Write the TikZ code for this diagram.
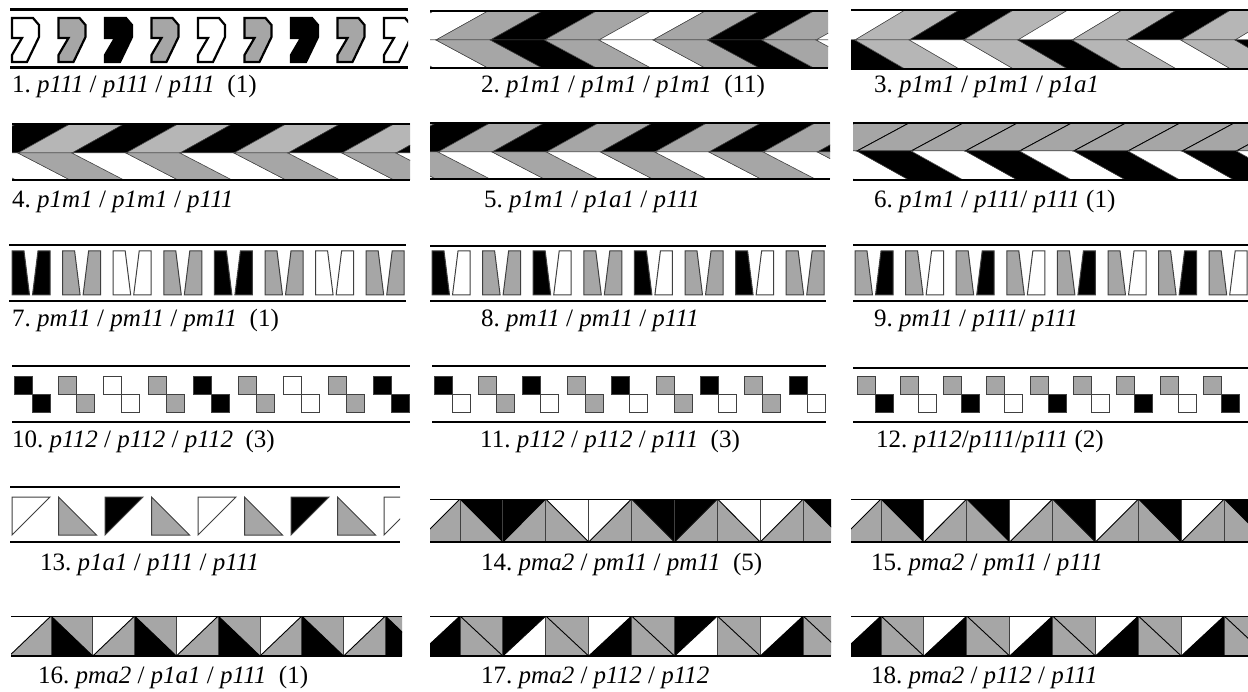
\documentclass[tikz,border=0pt]{standalone}
\usepackage{fontspec}
\setmainfont{Liberation Serif}
\definecolor{gA}{HTML}{A6A6A6}
\definecolor{gB}{HTML}{B6B6B6}
\definecolor{seamc}{HTML}{404040}
\tikzset{
  rim/.style={line width=2.6pt,black},
  seam/.style={line width=0.5pt,draw=seamc},
  blackseam/.style={line width=0.8pt,draw=black},
  pairline/.style={line width=1pt,draw=seamc},
  sqline/.style={line width=1pt,draw=seamc},
  diag/.style={line width=0.9pt,black},
  vline/.style={line width=0.9pt,draw=seamc},
  lbl/.style={anchor=base west,inner sep=0pt,font=\fontsize{25}{29}\selectfont},
}
\newcommand\gi[1]{\textit{#1}}
% chevron strip: parameters \Xa \Xb \Yt \Ym \Yb \Tip \Sp \Dx \Up \Lo \Nc \Sty
\newcommand\drawchev{%
  \begin{scope}
    \clip (\Xa,\Yt) rectangle (\Xb,\Yb);
    \foreach \k in {-2,...,9}{%
      \pgfmathsetmacro\tx{\Tip+\k*\Sp}%
      \pgfmathtruncatemacro\m{mod(\k+8,\Nc)}%
      \pgfmathparse{\Up[\m]}\edef\cu{\pgfmathresult}%
      \pgfmathparse{\Lo[\m]}\edef\cl{\pgfmathresult}%
      \filldraw[fill=\cu,\Sty] (\tx,\Ym) -- (\tx+\Dx,\Yt) -- (\tx+\Dx+\Sp,\Yt) -- (\tx+\Sp,\Ym) -- cycle;
      \filldraw[fill=\cl,seam] (\tx,\Ym) -- (\tx+\Dx,\Yb) -- (\tx+\Dx+\Sp,\Yb) -- (\tx+\Sp,\Ym) -- cycle;
    }
  \end{scope}
  \draw[rim] (\Xa,\Yt) -- (\Xb,\Yt);
  \draw[rim] (\Xa,\Yb) -- (\Xb,\Yb);
}
% triangle strip: cells of width \CW starting at #5, colours \CU / \CL with period \CN
\newcommand\trirow[5]{%
  \begin{scope}
    \clip (#1,#3) rectangle (#2,#4);
    \foreach \j in {-2,...,10}{%
      \pgfmathsetmacro\cx{#5+\j*\CW}%
      \pgfmathsetmacro\cxx{#5+(\j+1)*\CW}%
      \pgfmathtruncatemacro\m{mod(\j+8,\CN)}%
      \pgfmathtruncatemacro\pty{mod(\j+8,2)}%
      \pgfmathparse{\CU[\m]}\edef\cu{\pgfmathresult}%
      \pgfmathparse{\CL[\m]}\edef\cl{\pgfmathresult}%
      \ifnum\pty=0
        \fill[\cu] (\cx,#3) -- (\cxx,#3) -- (\cxx,#4) -- cycle;
        \fill[\cl] (\cx,#3) -- (\cx,#4) -- (\cxx,#4) -- cycle;
        \draw[diag] (\cx,#3) -- (\cxx,#4);
      \else
        \fill[\cu] (\cx,#3) -- (\cxx,#3) -- (\cx,#4) -- cycle;
        \fill[\cl] (\cx,#4) -- (\cxx,#4) -- (\cxx,#3) -- cycle;
        \draw[diag] (\cx,#4) -- (\cxx,#3);
      \fi
      \draw[vline] (\cx,#3) -- (\cx,#4);
    }
  \end{scope}
  \draw[line width=1pt] (#1,#3) -- (#2,#3);
  \draw[line width=2.2pt] (#1,#4) -- (#2,#4);
}
\newcommand\sevenmotif[2]{%
  \filldraw[fill=#2,line width=2.2pt,line join=miter]
    (#1,18) -- (#1+21,18) -- (#1+27,25) -- (#1+27,37) -- (#1+15,62) -- (#1,62)
    -- (#1,55) -- (#1+10,38) -- (#1,38) -- cycle;}
\newcommand\barpair[3]{%
  \filldraw[fill=#2,pairline] (#1,251) -- (#1+12,251) -- (#1+17.5,295) -- (#1,295) -- cycle;
  \filldraw[fill=#3,pairline] (#1+26,251) -- (#1+38,251) -- (#1+38,295) -- (#1+20.5,295) -- cycle;}
\newcommand\sqpair[3]{%
  \filldraw[fill=#2,sqline] (#1,377) rectangle ++(18,18);
  \filldraw[fill=#3,sqline] (#1+18,395) rectangle ++(18,18);}
\begin{document}
\begin{tikzpicture}[x=1pt,y=-1pt]
\useasboundingbox (0,0) rectangle (1248,692);
\fill[white] (0,0) rectangle (1248,692);

% ---- row 1 ----
\begin{scope}
  \clip (9,12) rectangle (408,65);
  \foreach \k in {0,...,8}{%
    \pgfmathsetmacro\mx{12+\k*46.5}%
    \pgfmathtruncatemacro\m{mod(\k,4)}%
    \pgfmathparse{{"white","gA","black","gA"}[\m]}\edef\mc{\pgfmathresult}%
    \sevenmotif{\mx}{\mc}}
\end{scope}
\draw[rim] (10,9.5) -- (408,9.5);
\draw[rim] (10,67.5) -- (408,67.5);

\def\Xa{430}\def\Xb{828}\def\Yt{11}\def\Ym{40}\def\Yb{68}
\def\Tip{436}\def\Sp{54.3}\def\Dx{52}\def\Nc{4}\def\Sty{seam}
\def\Up{{"gA","black","gA","white"}}\def\Lo{{"gA","black","gA","white"}}
\drawchev

\def\Xa{851}\def\Xb{1248}\def\Yt{10}\def\Ym{40}\def\Yb{69}
\def\Tip{855}\def\Sp{54.3}\def\Dx{50}\def\Nc{4}
\def\Up{{"gB","black","gB","white"}}\def\Lo{{"gB","white","gB","black"}}
\drawchev

% ---- row 2 ----
\def\Xa{12}\def\Xb{410}\def\Yt{124}\def\Ym{153}\def\Yb{180}
\def\Tip{18}\def\Sp{54}\def\Dx{52}\def\Nc{2}
\def\Up{{"gB","black"}}\def\Lo{{"gA","white"}}
\drawchev

\def\Xa{430}\def\Xb{830}\def\Yt{123}\def\Ym{152}\def\Yb{179}
\def\Tip{438}\def\Sp{54.2}\def\Dx{52}\def\Nc{2}
\def\Up{{"gA","black"}}\def\Lo{{"white","gA"}}
\drawchev

\def\Xa{853}\def\Xb{1248}\def\Yt{123}\def\Ym{151}\def\Yb{180}
\def\Tip{857}\def\Sp{54.2}\def\Dx{52}\def\Nc{2}\def\Sty{blackseam}
\def\Up{{"gA","gA"}}\def\Lo{{"black","white"}}
\drawchev

% ---- row 3 ----
\foreach \k in {0,...,7}{%
  \pgfmathsetmacro\mx{12+\k*50.6}%
  \pgfmathtruncatemacro\m{mod(\k,4)}%
  \pgfmathparse{{"black","gA","white","gA"}[\m]}\edef\mc{\pgfmathresult}%
  \barpair{\mx}{\mc}{\mc}}
\draw[rim] (9,245) -- (406,245);
\draw[rim] (9,301) -- (406,301);

\foreach \k in {0,...,7}{%
  \pgfmathsetmacro\mx{432+\k*50.6}%
  \pgfmathtruncatemacro\m{mod(\k,2)}%
  \pgfmathparse{{"black","gA"}[\m]}\edef\ma{\pgfmathresult}%
  \pgfmathparse{{"white","gA"}[\m]}\edef\mb{\pgfmathresult}%
  \barpair{\mx}{\ma}{\mb}}
\draw[rim] (430,246) -- (826,246);
\draw[rim] (430,301) -- (826,301);

\foreach \k in {0,...,7}{%
  \pgfmathsetmacro\mx{855+\k*50.6}%
  \pgfmathtruncatemacro\m{mod(\k,2)}%
  \pgfmathparse{{"black","white"}[\m]}\edef\mb{\pgfmathresult}%
  \barpair{\mx}{gA}{\mb}}
\draw[rim] (853,245) -- (1248,245);
\draw[rim] (853,301) -- (1248,301);

% ---- row 4 ----
\foreach \k in {0,...,8}{%
  \pgfmathsetmacro\mx{14+\k*44.9}%
  \pgfmathtruncatemacro\m{mod(\k,4)}%
  \pgfmathparse{{"black","gA","white","gA"}[\m]}\edef\mc{\pgfmathresult}%
  \sqpair{\mx}{\mc}{\mc}}
\draw[rim] (12,366) -- (410,366);
\draw[rim] (12,422) -- (410,422);

\foreach \k in {0,...,8}{%
  \pgfmathsetmacro\mx{434+\k*44.4}%
  \pgfmathtruncatemacro\m{mod(\k,2)}%
  \pgfmathparse{{"black","gA"}[\m]}\edef\ma{\pgfmathresult}%
  \pgfmathparse{{"white","gA"}[\m]}\edef\mb{\pgfmathresult}%
  \sqpair{\mx}{\ma}{\mb}}
\draw[rim] (432,366) -- (826,366);
\draw[rim] (432,422) -- (826,422);

\foreach \k in {0,...,8}{%
  \pgfmathsetmacro\mx{857+\k*43.3}%
  \pgfmathtruncatemacro\m{mod(\k,2)}%
  \pgfmathparse{{"black","white"}[\m]}\edef\mb{\pgfmathresult}%
  \sqpair{\mx}{gA}{\mb}}
\draw[rim] (853,368) -- (1248,368);
\draw[rim] (853,422) -- (1248,422);

% ---- row 5 ----
\begin{scope}
  \clip (8,490) rectangle (400,540);
  \foreach \k in {0,...,8}{%
    \pgfmathsetmacro\mx{12+\k*46.5}%
    \pgfmathtruncatemacro\m{mod(\k,4)}%
    \pgfmathparse{{"white","gA","black","gA"}[\m]}\edef\mc{\pgfmathresult}%
    \ifodd\k
      \filldraw[fill=\mc,pairline] (\mx,497) -- (\mx,535) -- (\mx+38,535) -- cycle;
    \else
      \filldraw[fill=\mc,pairline] (\mx,497) -- (\mx+38,497) -- (\mx,535) -- cycle;
    \fi}
\end{scope}
\draw[rim] (10,487) -- (400,487);
\draw[rim] (10,542) -- (400,542);

\def\CW{42.9}
\def\CN{4}\def\CU{{"black","black","white","white"}}\def\CL{{"gA","gA","gA","gA"}}
\trirow{430}{831}{499}{542}{460}
\def\CN{2}\def\CU{{"black","white"}}\def\CL{{"gA","gA"}}
\trirow{851}{1248}{499}{542}{881}

% ---- row 6 ----
\def\CW{41.8}
\def\CN{2}\def\CU{{"gA","white"}}\def\CL{{"black","gA"}}
\trirow{11}{402}{616}{656}{51}
\def\CW{42.9}
\def\CN{4}\def\CU{{"gA","black","gA","white"}}\def\CL{{"gA","white","gA","black"}}
\trirow{430}{831}{616}{656}{460}
\def\CN{2}\def\CU{{"gA","white"}}\def\CL{{"gA","black"}}
\trirow{851}{1248}{616}{656}{881}

% ---- captions ----
\node[lbl] (l1) at (12,93) {1.\ \gi{p111} / \gi{p111} / \gi{p111}\ \ (1)};
\node[lbl] (l2) at (481,93) {2.\ \gi{p1m1} / \gi{p1m1} / \gi{p1m1}\ \ (11)};
\node[lbl] (l3) at (874,93) {3.\ \gi{p1m1} / \gi{p1m1} / \gi{p1a1}};
\node[lbl] (l4) at (12,208) {4.\ \gi{p1m1} / \gi{p1m1} / \gi{p111}};
\node[lbl] (l5) at (484,208) {5.\ \gi{p1m1} / \gi{p1a1} / \gi{p111}};
\node[lbl] (l6) at (874,208) {6.\ \gi{p1m1} / \gi{p111}/ \gi{p111} (1)};
\node[lbl] (l7) at (12,327) {7.\ \gi{pm11} / \gi{pm11} / \gi{pm11}\ \ (1)};
\node[lbl] (l8) at (481,327) {8.\ \gi{pm11} / \gi{pm11} / \gi{p111}};
\node[lbl] (l9) at (874,327) {9.\ \gi{pm11} / \gi{p111}/ \gi{p111}};
\node[lbl] (l10) at (12,447) {10.\ \gi{p112} / \gi{p112} / \gi{p112}\ \ (3)};
\node[lbl] (l11) at (480,447) {11.\ \gi{p112} / \gi{p112} / \gi{p111}\ \ (3)};
\node[lbl] (l12) at (876,447) {12.\ \gi{p112}/\gi{p111}/\gi{p111} (2)};
\node[lbl] (l13) at (40,570) {13.\ \gi{p1a1} / \gi{p111} / \gi{p111}};
\node[lbl] (l14) at (481,570) {14.\ \gi{pma2} / \gi{pm11} / \gi{pm11}\ \ (5)};
\node[lbl] (l15) at (871,570) {15.\ \gi{pma2} / \gi{pm11} / \gi{p111}};
\node[lbl] (l16) at (38,683) {16.\ \gi{pma2} / \gi{p1a1} / \gi{p111}\ \ (1)};
\node[lbl] (l17) at (481,683) {17.\ \gi{pma2} / \gi{p112} / \gi{p112}};
\node[lbl] (l18) at (871,683) {18.\ \gi{pma2} / \gi{p112} / \gi{p111}};
\end{tikzpicture}
\end{document}
